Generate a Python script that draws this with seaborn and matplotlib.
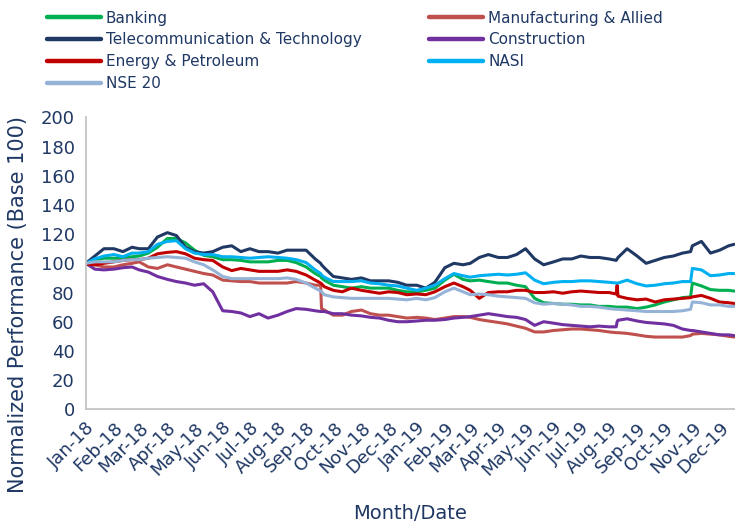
import matplotlib
matplotlib.use("Agg")
import matplotlib.pyplot as plt
import matplotlib.dates as mdates
import seaborn as sns
import pandas as pd

dates = [
    "2018-01-01", "2018-01-11", "2018-01-21", "2018-02-01", "2018-02-11", "2018-02-21",
    "2018-03-01", "2018-03-11", "2018-03-21", "2018-04-01", "2018-04-11", "2018-04-21",
    "2018-05-01", "2018-05-11", "2018-05-21", "2018-06-01", "2018-06-11", "2018-06-21",
    "2018-07-01", "2018-07-11", "2018-07-21", "2018-08-01", "2018-08-11", "2018-08-21",
    "2018-09-01", "2018-09-11", "2018-09-17", "2018-09-18", "2018-09-21",
    "2018-10-01", "2018-10-11", "2018-10-21", "2018-11-01", "2018-11-11", "2018-11-21",
    "2018-12-01", "2018-12-11", "2018-12-21",
    "2019-01-01", "2019-01-11", "2019-01-21", "2019-02-01", "2019-02-11", "2019-02-21",
    "2019-03-01", "2019-03-11", "2019-03-21", "2019-04-01", "2019-04-11", "2019-04-21",
    "2019-05-01", "2019-05-11", "2019-05-21", "2019-06-01", "2019-06-11", "2019-06-21",
    "2019-07-01", "2019-07-11", "2019-07-21",
    "2019-08-01", "2019-08-09", "2019-08-10", "2019-08-11", "2019-08-21",
    "2019-09-01", "2019-09-11", "2019-09-21",
    "2019-10-01", "2019-10-11", "2019-10-21", "2019-10-30",
    "2019-11-01", "2019-11-11", "2019-11-21",
    "2019-12-01", "2019-12-11", "2019-12-17",
]

banking = [
    100, 102.5, 103.5, 103.5, 103.5, 104.5, 105, 107, 111, 117, 117, 114,
    109, 105.5, 104.5, 102.5, 102.5, 102, 101, 101, 101, 102, 102, 100.5,
    97.5, 93, 91, 90, 88.5, 85, 84, 83, 84, 83, 83, 83, 81.5, 80.5,
    80.5, 81.5, 83, 88.5, 92.5, 89, 88, 88.5, 87.5, 86.5, 86.5, 85,
    84, 76, 73, 72.5, 72, 72, 71.5, 71.5, 70.5,
    70.5, 70, 70, 70, 70, 69, 70, 71.5, 73.5, 75, 76.5, 77,
    86.5, 84.5, 82, 81.5, 81.5, 81,
]
manufacturing = [
    100, 99, 97.5, 97.5, 99, 100, 101, 97.5, 96.5, 99, 97.5, 96,
    94.5, 93, 92, 88.5, 88, 87.5, 87.5, 86.5, 86.5, 86.5, 86.5, 87.5,
    86.5, 85, 85, 69, 68, 64.5, 64.5, 67, 68, 65.5, 64.5, 64.5, 63.5, 62.5,
    63, 62.5, 61.5, 62.5, 63.5, 63.5, 63, 61.5, 60.5, 59.5, 58.5, 57,
    55.5, 53, 53, 54, 54.5, 55, 55, 54.5, 54,
    53, 52.5, 52.5, 52.5, 52, 51, 50, 49.5, 49.5, 49.5, 49.5, 50.5,
    51.5, 52, 51.5, 51, 50, 49.5,
]
telecom = [
    100, 105, 110, 110, 108, 111, 110, 110, 118, 121, 119, 111,
    108, 107, 108, 111, 112, 108, 110, 108, 108, 107, 109, 109,
    109, 103, 100, 99, 97, 91, 90, 89, 90, 88, 88, 88, 87, 85,
    85, 83, 87, 97, 100, 99, 100, 104, 106, 104, 104, 106,
    110, 103, 99, 101, 103, 103, 105, 104, 104,
    103, 102, 103, 104, 110, 105, 100, 102, 104, 105, 107, 108,
    112, 115, 107, 109, 112, 113,
]
construction = [
    100, 96, 95.5, 96, 97, 97.5, 95.5, 94, 91, 89, 87.5, 86.5,
    85, 86, 80.5, 67.5, 67, 66, 63.5, 65.5, 62.5, 64.5, 67, 69,
    68.5, 67.5, 67, 67, 67, 65.5, 65.5, 64.5, 64, 63, 62.5, 61, 60, 60,
    60.5, 61, 61, 61.5, 62.5, 63, 63.5, 64.5, 65.5, 64.5, 63.5, 63,
    61.5, 57.5, 60, 59, 58, 57.5, 57, 56.5, 57,
    56.5, 56.5, 60, 61, 62, 60.5, 59.5, 59, 58.5, 57.5, 55, 54,
    54, 53, 52, 51, 51, 50.5,
]
energy = [
    99.5, 99, 100, 101, 102, 102.5, 102.5, 103.5, 106.5, 107.5, 108, 106.5,
    103.5, 102.5, 102, 97.5, 95, 96.5, 95.5, 94.5, 94.5, 94.5, 95.5, 94.5,
    92, 88.5, 86.5, 86, 84, 81.5, 80.5, 83, 81.5, 80.5, 79.5, 80.5, 80, 78.5,
    79, 78.5, 80.5, 84, 86.5, 84, 81.5, 76, 80, 80.5, 80.5, 81.5,
    81.5, 80, 80, 80.5, 79.5, 80.5, 81, 80.5, 80,
    80, 79, 85, 77.5, 76, 75, 75.5, 73.5, 75, 75.5, 76, 76.5,
    77, 78, 76, 73.5, 73, 72.5,
]
nasi = [
    100, 103, 105, 106, 104.5, 107, 107, 108, 113, 115, 115.5, 110,
    107, 106, 106, 104.5, 104.5, 104, 103.5, 104, 104.5, 104, 103.5, 102.5,
    100.5, 95.5, 93, 92, 90.5, 87.5, 87.5, 87.5, 88, 86.5, 86, 85, 84.5, 83,
    81.5, 83, 85, 89.5, 93, 91.5, 90.5, 91.5, 92, 92.5, 92, 92.5,
    93.5, 88.5, 86, 87, 87.5, 87.5, 88, 88, 87.5,
    87, 86.5, 86.5, 86.5, 88.5, 86, 84.5, 85, 86, 86.5, 87.5, 87.5,
    96.5, 95.5, 91.5, 92, 93, 93,
]
nse20 = [
    100, 101, 101, 101, 102, 102.5, 102.5, 103.5, 104, 104.5, 104, 103.5,
    101, 99, 95.5, 91, 89.5, 89.5, 89.5, 89.5, 89.5, 89.5, 90, 89,
    86.5, 83, 81, 80.5, 78.5, 77, 76.5, 76, 76, 76, 76, 76, 75.5, 75,
    76, 75, 76.5, 80.5, 83, 80.5, 78.5, 79, 78.5, 77.5, 77, 76.5,
    76, 73, 72, 72.5, 72, 71.5, 70.5, 70.5, 70,
    69, 68.5, 68.5, 68.5, 68, 67.5, 67, 67, 67, 67, 67.5, 68.5,
    73.5, 73, 71.5, 71.5, 70.5, 70.5,
]

series_names = ["Banking", "Manufacturing & Allied", "Telecommunication & Technology",
                "Construction", "Energy & Petroleum", "NASI", "NSE 20"]
series_values = [banking, manufacturing, telecom, construction, energy, nasi, nse20]
colors = ["#00B050", "#C0504D", "#1F3864", "#7030A0", "#C00000", "#00B0F0", "#95B3D7"]

frames = []
for name, vals in zip(series_names, series_values):
    frames.append(pd.DataFrame({"date": pd.to_datetime(dates), "value": vals, "series": name}))
df = pd.concat(frames, ignore_index=True)

sns.set_style("white")
plt.rcParams["font.family"] = ["DejaVu Sans"]
text_color = "#1F3864"
grey = "#BFBFBF"

fig = plt.figure(figsize=(7.35, 5.27), dpi=100)
ax = fig.add_axes([0.1167, 0.2233, 0.8833, 0.5541])

sns.lineplot(data=df, x="date", y="value", hue="series", hue_order=series_names,
             palette=colors, linewidth=2.2, ax=ax, legend=True)

handles, labels = ax.get_legend_handles_labels()
ax.get_legend().remove()
hmap = dict(zip(labels, handles))
for h in handles:
    h.set_linewidth(3.2)

col1 = ["Banking", "Telecommunication & Technology", "Energy & Petroleum", "NSE 20"]
col2 = ["Manufacturing & Allied", "Construction", "NASI"]
leg_kw = dict(frameon=False, fontsize=11, handlelength=3.5, handletextpad=0.35,
              labelspacing=0.45, borderaxespad=0, borderpad=0, labelcolor=text_color)
fig.legend([hmap[k] for k in col1], col1, loc="upper left",
           bbox_to_anchor=(0.064, 0.98), **leg_kw)
fig.legend([hmap[k] for k in col2], col2, loc="upper left",
           bbox_to_anchor=(0.584, 0.98), **leg_kw)

ax.set_ylim(0, 200)
ax.set_yticks(range(0, 201, 20))
ax.set_xlim(pd.Timestamp("2018-01-01"), pd.Timestamp("2019-12-18"))
ax.xaxis.set_major_locator(mdates.MonthLocator())
ax.xaxis.set_major_formatter(mdates.DateFormatter("%b-%y"))
for lab in ax.get_xticklabels():
    lab.set_rotation(45)
    lab.set_ha("right")
    lab.set_rotation_mode("anchor")

ax.tick_params(axis="both", colors=grey, labelcolor=text_color, labelsize=13,
               length=5, width=1.2, direction="out")
ax.tick_params(axis="x", pad=2)
ax.tick_params(axis="y", pad=3)
for s in ["top", "right"]:
    ax.spines[s].set_visible(False)
for s in ["left", "bottom"]:
    ax.spines[s].set_color(grey)
    ax.spines[s].set_linewidth(1.2)

ax.set_xlabel("Month/Date", fontsize=14, color=text_color)
ax.xaxis.set_label_coords(0.5, -0.325)
ax.set_ylabel("Normalized Performance (Base 100)", fontsize=15, color=text_color)
ax.yaxis.set_label_coords(-0.089, 0.36)
ax.grid(False)

fig.savefig("out.png", dpi=100)
